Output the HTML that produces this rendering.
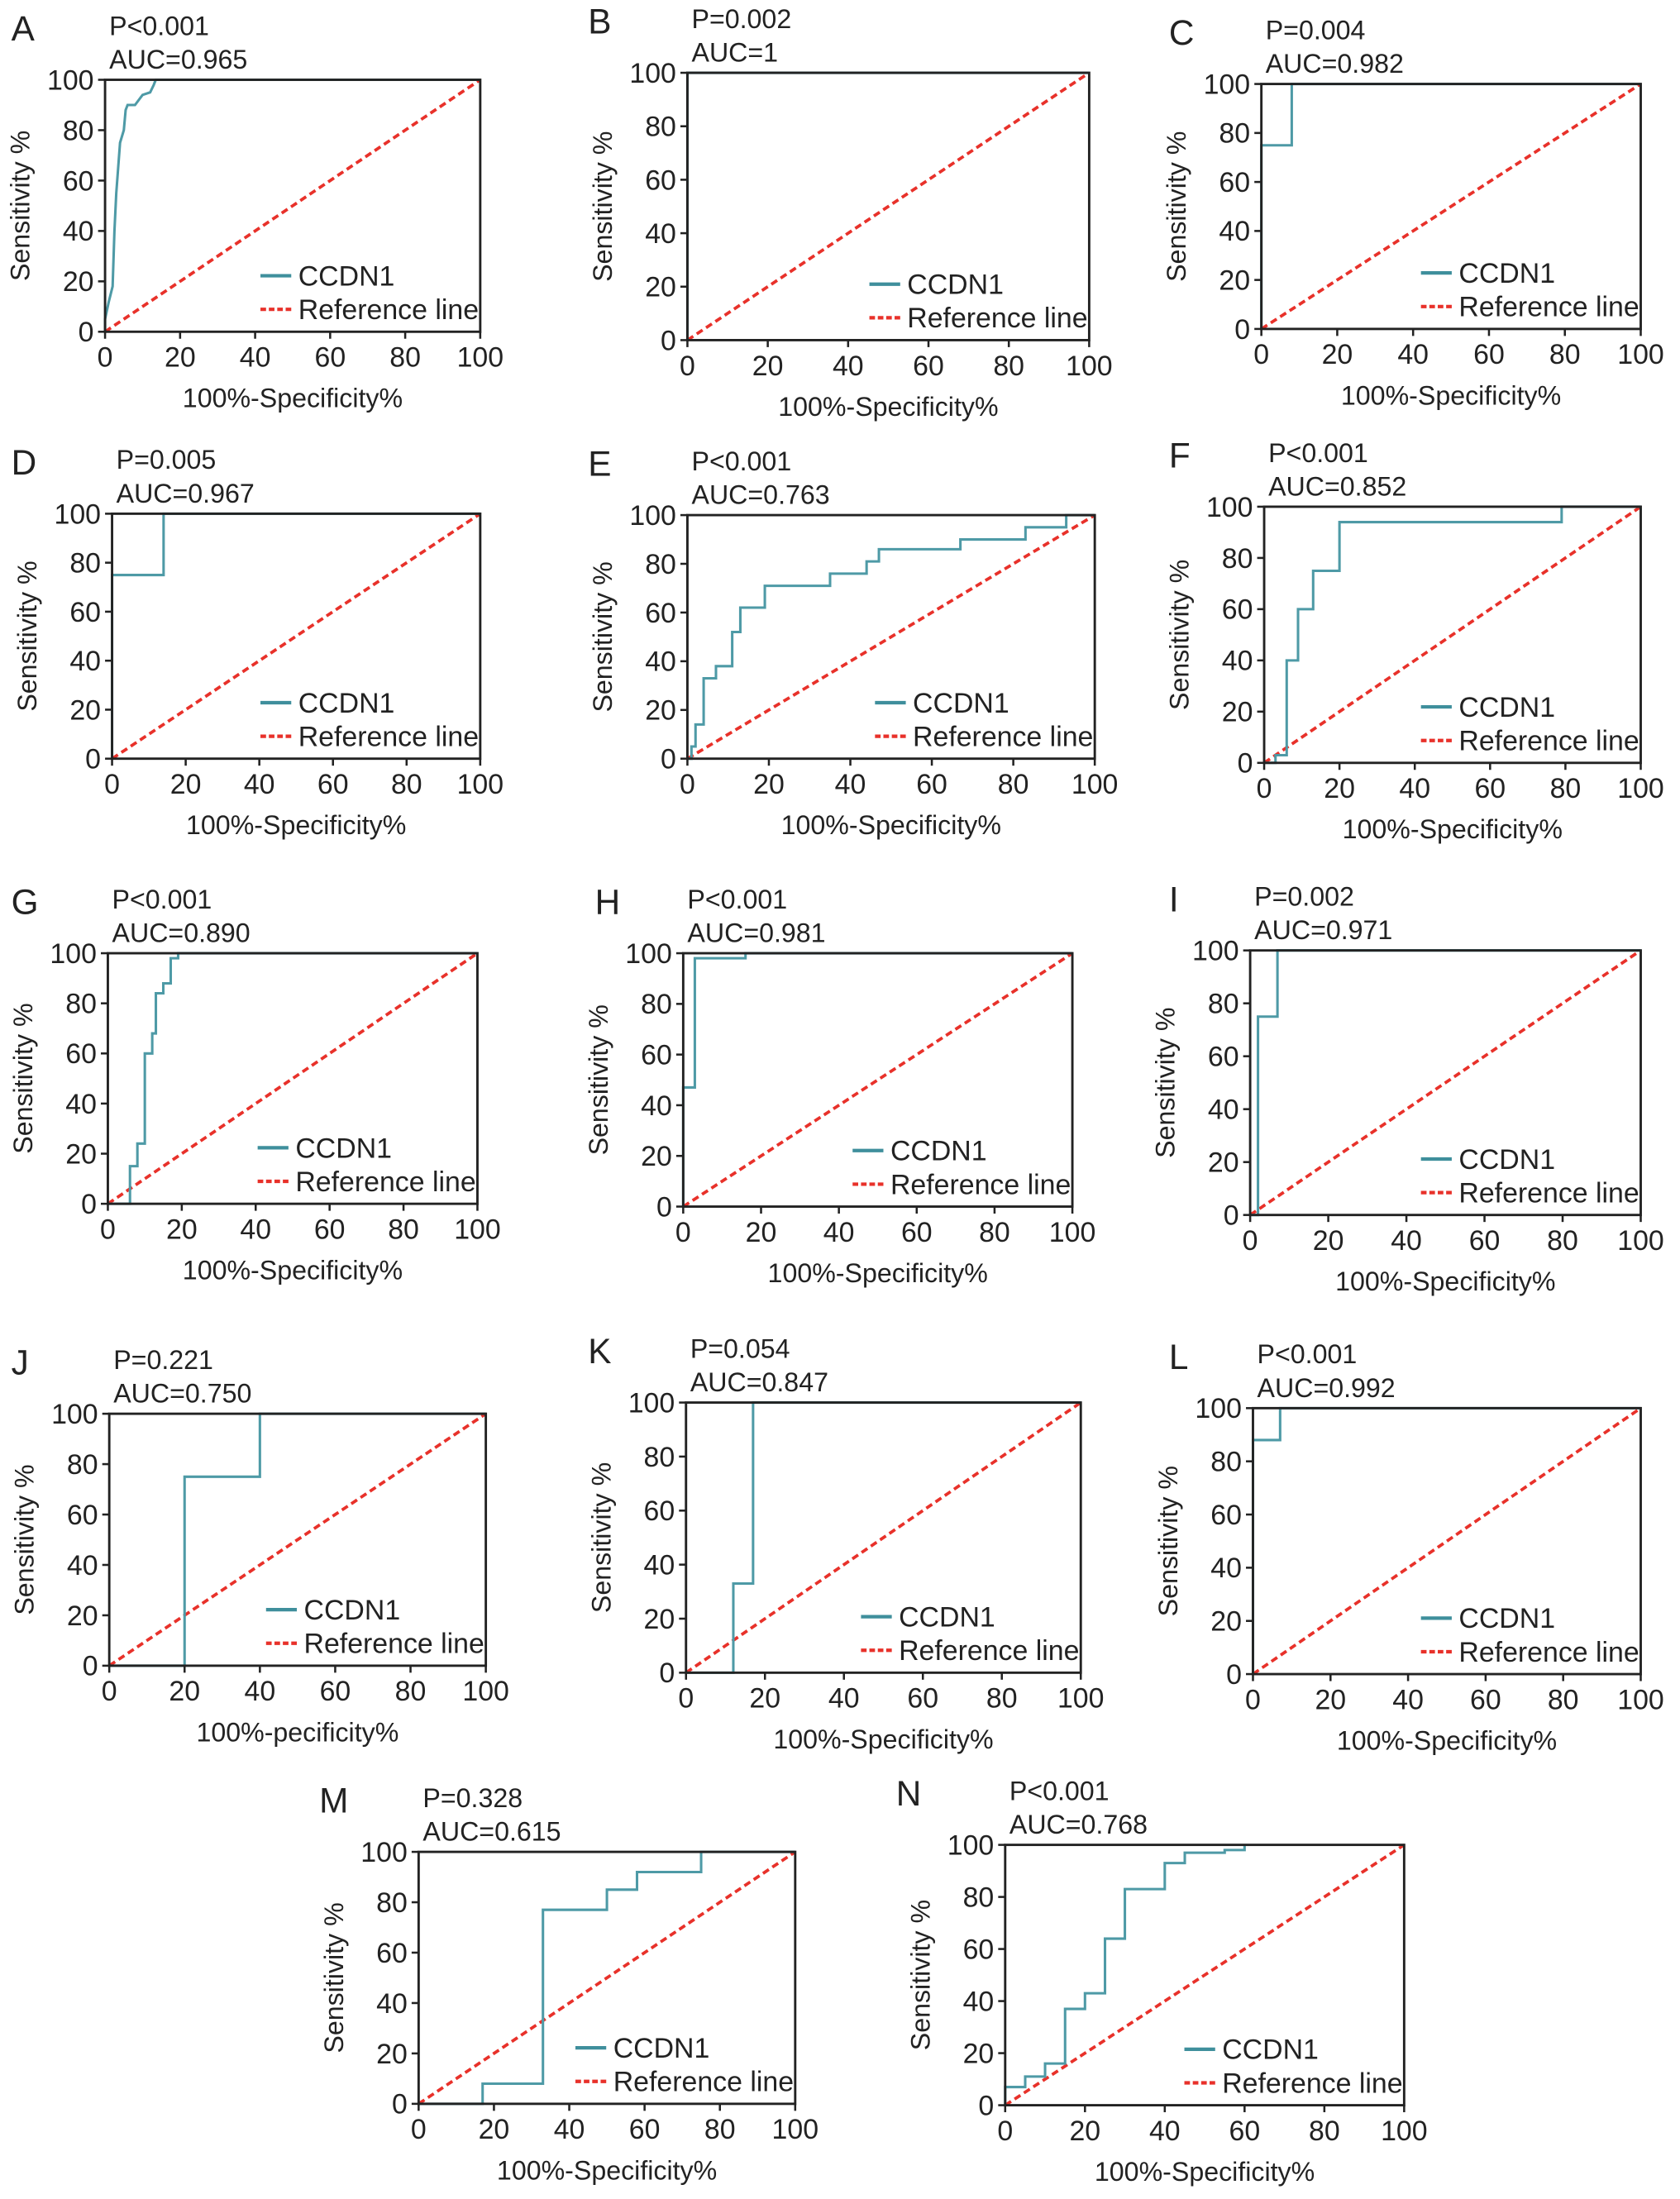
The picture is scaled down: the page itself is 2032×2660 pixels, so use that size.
<!DOCTYPE html>
<html><head><meta charset="utf-8"><style>
html,body{margin:0;padding:0;background:#fff}
svg{display:block}
text{font-family:"Liberation Sans",Arial,sans-serif;fill:#222}
</style></head><body>
<svg id="fig" width="2032" height="2660" viewBox="0 0 1200 1571" xmlns="http://www.w3.org/2000/svg"></svg>
<script>
// Panel metadata
const panelIds = ["A","B","C","D","E","F","G","H","I","J","K","L","M","N"];
const pValues = ["P<0.001","P=0.002","P=0.004","P=0.005","P<0.001","P<0.001","P<0.001","P<0.001","P=0.002","P=0.221","P=0.054","P<0.001","P=0.328","P<0.001"];
const aucValues = ["AUC=0.965","AUC=1","AUC=0.982","AUC=0.967","AUC=0.763","AUC=0.852","AUC=0.890","AUC=0.981","AUC=0.971","AUC=0.750","AUC=0.847","AUC=0.992","AUC=0.615","AUC=0.768"];
const xTitles = ["100%-Specificity%","100%-Specificity%","100%-Specificity%","100%-Specificity%","100%-Specificity%","100%-Specificity%","100%-Specificity%","100%-Specificity%","100%-Specificity%","100%-pecificity%","100%-Specificity%","100%-Specificity%","100%-Specificity%","100%-Specificity%"];
const tickLabels = [0,20,40,60,80,100];
// ROC series: [100%-specificity, sensitivity]
const rocA = [[0,0],[0,5],[1,12],[2,18],[2.5,40],[3,55],[4,75],[5,80],[5.5,88],[6,90],[8,90],[9,92],[10,94],[12,95],[13,98],[13.5,100],[100,100]];
const rocB = [[0,0],[0,100],[100,100]];
const rocC = [[0,0],[0,75],[8,75],[8,100],[100,100]];
const rocD = [[0,0],[0,75],[14,75],[14,100],[100,100]];
const rocE = [[0,0],[1,0],[1,5],[2,5],[2,14],[4,14],[4,33],[7,33],[7,38],[11,38],[11,52],[13,52],[13,62],[19,62],[19,71],[35,71],[35,76],[44,76],[44,81],[47,81],[47,86],[67,86],[67,90],[83,90],[83,95],[93,95],[93,100],[100,100]];
const rocF = [[0,0],[3,0],[3,3],[6,3],[6,40],[9,40],[9,60],[13,60],[13,75],[20,75],[20,94],[79,94],[79,100],[100,100]];
const rocG = [[0,0],[6,0],[6,15],[8,15],[8,24],[10,24],[10,60],[12,60],[12,68],[13,68],[13,84],[15,84],[15,88],[17,88],[17,98],[19,98],[19,100],[100,100]];
const rocH = [[0,0],[0,47],[3,47],[3,98],[16,98],[16,100],[100,100]];
const rocI = [[0,0],[2,0],[2,75],[7,75],[7,100],[100,100]];
const rocJ = [[0,0],[20,0],[20,75],[40,75],[40,100],[100,100]];
const rocK = [[0,0],[12,0],[12,33],[17,33],[17,100],[100,100]];
const rocL = [[0,0],[0,88],[7,88],[7,100],[100,100]];
const rocM = [[0,0],[17,0],[17,8],[33,8],[33,77],[50,77],[50,85],[58,85],[58,92],[75,92],[75,100],[100,100]];
const rocN = [[0,0],[0,7],[5,7],[5,11],[10,11],[10,16],[15,16],[15,37],[20,37],[20,43],[25,43],[25,64],[30,64],[30,83],[40,83],[40,93],[45,93],[45,97],[55,97],[55,98],[60,98],[60,100]];
const rocSeries = [rocA,rocB,rocC,rocD,rocE,rocF,rocG,rocH,rocI,rocJ,rocK,rocL,rocM,rocN];

// layout (not data)
const boxes = [[75,57,343,237],[491,52,778,243],[901,60,1172,235],[80,367,343,542],[491,368,782,542],[903,362,1172,545],[77,681,341,860],[488,681,766,862],[893,679,1172,868],[78,1010,347,1190],[490,1002,772,1195],[895,1006,1172,1196],[299,1323,568,1503],[718,1318,1003,1504]];
const letterX = [8,420,835,8,420,835,8,425,835,8,420,835,228,640];

const NS="http://www.w3.org/2000/svg";
const svg=document.getElementById('fig');
function mk(tag,attrs,parent,txt){const e=document.createElementNS(NS,tag);for(const k in attrs)e.setAttribute(k,attrs[k]);if(txt!==undefined)e.textContent=txt;parent.appendChild(e);return e;}

panelIds.forEach((id,i)=>{
  const [L,T,R,B]=boxes[i];
  const sx=v=>L+(R-L)*v/100, sy=v=>B-(B-T)*v/100;
  const g=mk('g',{},svg);
  
  
  const lt=mk('text',{x:letterX[i],y:T-28,'font-size':25},g,id);
  
  const pt=mk('text',{x:L+3,y:T-32,'font-size':19},g,pValues[i]);
  
  const at=mk('text',{x:L+3,y:T-8,'font-size':19},g,aucValues[i]);
  
  const ref=mk('line',{x1:sx(0),y1:sy(0),x2:sx(100),y2:sy(100),stroke:'#e8312a','stroke-width':2.2,'stroke-dasharray':'5,3'},g);
  
  const pts=rocSeries[i].map(p=>sx(p[0]).toFixed(1)+','+sy(p[1]).toFixed(1)).join(' ');
  const cur=mk('polyline',{points:pts,fill:'none',stroke:'#4e9aa6','stroke-width':1.8},g);
  
  const fr=mk('rect',{x:L,y:T,width:R-L,height:B-T,fill:'none',stroke:'#222','stroke-width':1.7},g);
  
  tickLabels.forEach(t=>{
    mk('line',{x1:sx(t),y1:B,x2:sx(t),y2:B+5,stroke:'#222','stroke-width':1.5},g);
    const xl=mk('text',{x:sx(t),y:B+25,'font-size':20,'text-anchor':'middle'},g,t);
    
    mk('line',{x1:L-5,y1:sy(t),x2:L,y2:sy(t),stroke:'#222','stroke-width':1.5},g);
    const yl=mk('text',{x:L-8,y:sy(t)+7,'font-size':20,'text-anchor':'end'},g,t);
    
  });
  const xt=mk('text',{x:(L+R)/2,y:B+54,'font-size':19,'text-anchor':'middle'},g,xTitles[i]);
  
  const yx=L-54, yy=(T+B)/2;
  const yt=mk('text',{x:yx,y:yy,'font-size':19,'text-anchor':'middle',transform:'rotate(-90 '+yx+' '+yy+')'},g,'Sensitivity %');
  
  const lg=mk('g',{},g);
  
  const lx=R-130;
  mk('line',{x1:lx-27,y1:B-40,x2:lx-5,y2:B-40,stroke:'#3f8f9c','stroke-width':2.5},lg);
  const l1=mk('text',{x:lx,y:B-33,'font-size':20},lg,'CCDN1');
  
  mk('line',{x1:lx-27,y1:B-16,x2:lx-5,y2:B-16,stroke:'#e8312a','stroke-width':2.5,'stroke-dasharray':'4,2'},lg);
  const l2=mk('text',{x:lx,y:B-9,'font-size':20},lg,'Reference line');
  
});
</script>
</body></html>
